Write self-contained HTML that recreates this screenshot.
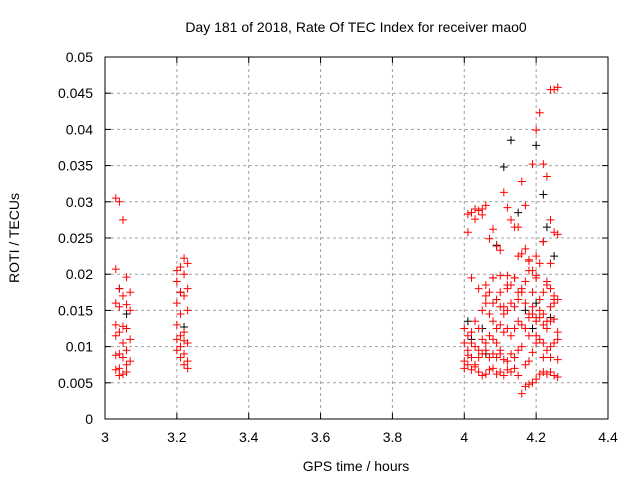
<!DOCTYPE html>
<html><head><meta charset="utf-8"><style>
body{margin:0;background:#fff;}
svg{display:block;font-family:"Liberation Sans",sans-serif;}
</style></head><body>
<svg id="chart" width="640" height="480" viewBox="0 0 640 480" xmlns="http://www.w3.org/2000/svg">
<rect width="640" height="480" fill="#fff"/>
<text x="356" y="32" font-size="14" text-anchor="middle">Day 181 of 2018, Rate Of TEC Index for receiver mao0</text>
<text x="356" y="471" font-size="14" text-anchor="middle">GPS time / hours</text>
<text transform="translate(19,238) rotate(-90)" font-size="14" text-anchor="middle">ROTI / TECUs</text>
<g id="grid"></g><g id="axes"></g><g id="marks"></g>
</svg>
<script>
const xTicks=[3,3.2,3.4,3.6,3.8,4,4.2,4.4];
const xTickLabels=["3","3.2","3.4","3.6","3.8","4","4.2","4.4"];
const yTicks=[0,0.005,0.01,0.015,0.02,0.025,0.03,0.035,0.04,0.045,0.05];
const yTickLabels=["0","0.005","0.01","0.015","0.02","0.025","0.03","0.035","0.04","0.045","0.05"];
const blackX=[3.04,3.06,3.21,3.22,4.01,4.05,4.09,4.11,4.13,4.15,4.17,4.19,4.2,4.22,4.23,4.25,4.02,4.06,4.2,4.24];
const blackY=[0.018,0.0145,0.0175,0.0127,0.0135,0.0125,0.024,0.0348,0.0385,0.0285,0.015,0.0125,0.0378,0.031,0.0265,0.0225,0.011,0.009,0.016,0.014];
const redX=[3.03,3.04,3.05,3.03,3.06,3.04,3.07,3.05,3.03,3.06,3.04,3.07,3.03,3.05,3.06,3.04,3.03,3.07,3.05,3.06,3.04,3.03,3.05,3.07,3.06,3.04,3.03,3.06,3.05,3.04,
3.22,3.23,3.21,3.2,3.22,3.2,3.23,3.21,3.22,3.2,3.23,3.21,3.2,3.22,3.21,3.2,3.22,3.23,3.21,3.2,3.22,3.21,3.23,3.22,3.23,
4.01,4.02,4.03,4.04,4.05,4.06,4.01,4.03,4.08,4.05,4.07,4.1,4.09,4.11,4.12,4.13,4.14,4.15,4.16,4.17,4.18,4.19,4.2,4.21,4.22,4.23,4.24,4.25,4.26,4.24,4.25,4.22,4.2,4.19,4.21,4.23,4.25,4.26,4.24,
4.0,4.01,4.02,4.03,4.04,4.05,4.06,4.07,4.08,4.09,4.1,4.11,4.12,4.13,4.14,4.15,4.16,4.17,4.18,4.19,4.2,4.21,4.22,4.23,4.24,4.25,4.26,
4.0,4.01,4.02,4.03,4.04,4.05,4.06,4.07,4.08,4.09,4.1,4.11,4.12,4.13,4.14,4.15,4.16,4.17,4.18,4.19,4.2,4.21,4.22,4.23,4.24,4.25,4.26,
4.0,4.01,4.02,4.03,4.04,4.05,4.06,4.07,4.08,4.09,4.1,4.11,4.12,4.13,4.14,4.15,4.16,4.17,4.18,4.19,4.2,4.21,4.22,4.23,4.24,4.25,4.26,
4.0,4.01,4.02,4.03,4.04,4.05,4.06,4.07,4.08,4.09,4.1,4.11,4.12,4.13,4.14,4.15,4.16,4.17,4.18,4.19,4.2,4.21,4.22,4.23,4.24,4.25,4.26,
4.07,4.09,4.11,4.13,4.15,4.17,4.19,4.21,4.23,4.25,4.06,4.08,4.1,4.12,4.14,4.16,4.18,4.2,4.22,4.24,4.15,4.16,4.17,4.18,4.14,4.12,4.1,4.08,4.2,4.22,4.02,4.04,4.06,4.08,4.1,4.12,4.18,4.2,4.22,4.24,4.26];
const redY=[0.0305,0.030,0.0275,0.0207,0.0196,0.018,0.0175,0.017,0.016,0.0158,0.0155,0.015,0.013,0.0128,0.0125,0.012,0.0115,0.011,0.0105,0.0095,0.009,0.0088,0.0085,0.008,0.0075,0.007,0.0068,0.0065,0.0062,0.006,
0.0222,0.0215,0.021,0.0205,0.02,0.019,0.018,0.0175,0.017,0.016,0.015,0.0145,0.013,0.012,0.0115,0.011,0.0108,0.0105,0.01,0.0095,0.009,0.0085,0.008,0.0075,0.007,
0.0283,0.0285,0.029,0.0288,0.029,0.0295,0.0258,0.0276,0.0262,0.0282,0.0249,0.0233,0.0239,0.0313,0.0292,0.0275,0.0265,0.0265,0.0328,0.0295,0.0218,0.0352,0.0399,0.0423,0.0352,0.0335,0.0455,0.0455,0.0458,0.0275,0.0258,0.0245,0.0225,0.0205,0.0215,0.019,0.0165,0.0255,0.0215,
0.0125,0.0115,0.012,0.0135,0.0125,0.015,0.016,0.0145,0.0135,0.0125,0.013,0.0145,0.015,0.016,0.0155,0.0165,0.0175,0.016,0.0145,0.0155,0.014,0.015,0.0145,0.0135,0.0155,0.016,0.0165,
0.0105,0.0095,0.0105,0.01,0.0095,0.011,0.0105,0.0115,0.011,0.0105,0.0095,0.012,0.0125,0.0115,0.0125,0.0135,0.013,0.0125,0.014,0.0145,0.0135,0.014,0.013,0.0125,0.0135,0.0138,0.012,
0.008,0.0088,0.0085,0.0075,0.0085,0.009,0.0095,0.0085,0.009,0.0085,0.009,0.0082,0.008,0.009,0.0085,0.0095,0.01,0.0075,0.008,0.0092,0.0105,0.011,0.0105,0.0095,0.01,0.0105,0.011,
0.007,0.0075,0.0068,0.0072,0.0065,0.006,0.0062,0.0068,0.007,0.0062,0.0065,0.006,0.0068,0.0065,0.007,0.006,0.0035,0.0045,0.0048,0.005,0.0055,0.0062,0.0065,0.0062,0.0065,0.006,0.0058,
0.0175,0.0165,0.0155,0.0185,0.0175,0.019,0.0175,0.0165,0.0185,0.017,0.0185,0.0195,0.0175,0.0185,0.0195,0.018,0.0205,0.0195,0.0175,0.018,0.0225,0.0228,0.0235,0.022,0.0195,0.0198,0.0198,0.0195,0.0198,0.0245,0.0195,0.018,0.017,0.016,0.0155,0.018,0.0115,0.0115,0.0085,0.0085,0.0082];
const X0=105,X1=608,Y0=419,Y1=57;
const xs=v=>X0+(v-3)/(4.4-3)*(X1-X0);
const ys=v=>Y0-v/0.05*(Y0-Y1);
const NS="http://www.w3.org/2000/svg";
function mk(tag,attrs,parent){const e=document.createElementNS(NS,tag);for(const k in attrs)e.setAttribute(k,attrs[k]);parent.appendChild(e);return e;}
const grid=document.getElementById('grid'),axes=document.getElementById('axes'),marks=document.getElementById('marks');
xTicks.forEach((t,i)=>{const x=xs(t);
 if(i>0&&i<xTicks.length-1){const g=mk('line',{x1:x,x2:x,y1:Y1,y2:Y0,stroke:'#a0a0a0','stroke-dasharray':'3,3'},grid);
 
 }
 const tl=mk('line',{x1:x,x2:x,y1:Y0,y2:Y0-6,stroke:'#000'},axes);
 
 
 const tt=mk('line',{x1:x,x2:x,y1:Y1,y2:Y1+6,stroke:'#000'},axes);
 
 
 const lb=mk('text',{x:x,y:Y0+23,'font-size':14,'text-anchor':'middle'},axes);lb.textContent=xTickLabels[i];
 
 
});
yTicks.forEach((t,i)=>{const y=ys(t);
 if(i>0&&i<yTicks.length-1){const g=mk('line',{x1:X0,x2:X1,y1:y,y2:y,stroke:'#a0a0a0','stroke-dasharray':'3,3'},grid);
 
 }
 const tl=mk('line',{x1:X0,x2:X0+6,y1:y,y2:y,stroke:'#000'},axes);
 
 
 const tr=mk('line',{x1:X1,x2:X1-6,y1:y,y2:y,stroke:'#000'},axes);
 
 
 const lb=mk('text',{x:X0-12,y:y+5,'font-size':14,'text-anchor':'end'},axes);lb.textContent=yTickLabels[i];
 
 
});
const fr=mk('rect',{x:X0,y:Y1,width:X1-X0,height:Y0-Y1,fill:'none',stroke:'#000'},axes);


function plus(x,y,c,name){const p=mk('path',{d:`M${x-4},${y}h8M${x},${y-4}v8`,stroke:c,'stroke-width':1,fill:'none'},marks);
 
 }
blackX.forEach((v,i)=>plus(xs(v),ys(blackY[i]),'#000','black-point'));
redX.forEach((v,i)=>plus(xs(v),ys(redY[i]),'#f00','red-point'));
</script>
</body></html>
